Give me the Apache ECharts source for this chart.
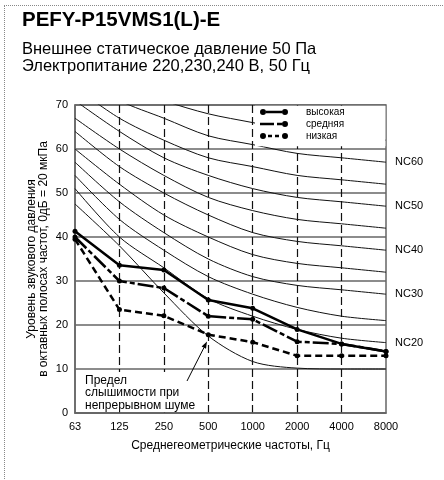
<!DOCTYPE html>
<html>
<head>
<meta charset="utf-8">
<script src="https://cdn.jsdelivr.net/npm/echarts@6/dist/echarts.min.js"></script>
<style>
html,body{margin:0;padding:0;background:#fff;}
#frame{position:absolute;left:4px;top:5px;width:440px;height:475px;border-top:1px dotted #888;border-left:1px dotted #888;}
#chart{position:absolute;left:0;top:0;width:444px;height:480px;}
</style>
</head>
<body>
<div id="frame"></div>
<div id="chart"></div>
<script>
// ---- data ----
const freqs = ['63', '125', '250', '500', '1000', '2000', '4000', '8000'];
const high   = [41.3, 33.6, 32.5, 25.7, 23.8, 19.0, 15.7, 14.0];
const medium = [40.0, 30.0, 28.4, 22.0, 21.3, 16.2, 15.7, 14.0];
const low    = [39.5, 23.5, 22.1, 17.8, 16.1, 13.0, 13.0, 13.0];
const threshold = [47.5, 38.0, 27.3, 17.5, 11.7, 10.2, 10.0, 10.0];
const nc20 = [51, 40, 33, 26, 22, 19, 17, 16];
const nc25 = [54, 44, 37, 31, 27, 24, 22, 21];
const nc30 = [57, 48, 41, 35, 31, 29, 28, 27];
const nc35 = [60, 52, 45, 40, 36, 34, 33, 32];
const nc40 = [64, 56, 50, 45, 41, 39, 38, 37];
const nc45 = [67, 60, 54, 49, 46, 44, 43, 42];
const nc50 = [71, 64, 58, 54, 51, 49, 48, 47];
const nc55 = [74, 67, 62, 58, 56, 54, 53, 52];
const nc60 = [77, 71, 67, 63, 61, 59, 58, 57];
const nc65 = [80, 75, 71, 68, 66, 64, 63, 62];
const yTicks = [0, 10, 20, 30, 40, 50, 60, 70];
const legendNames = ['высокая', 'средняя', 'низкая'];

const FONT = '"Liberation Sans", Arial, sans-serif';

const ncList = [
  ['NC20', nc20, true], ['NC25', nc25, false], ['NC30', nc30, true], ['NC35', nc35, false],
  ['NC40', nc40, true], ['NC45', nc45, false], ['NC50', nc50, true], ['NC55', nc55, false],
  ['NC60', nc60, true], ['NC65', nc65, false]
];

const thinLine = (name, data, labelled) => ({
  name: name, type: 'line', data: data, smooth: 0.3, symbol: 'none', z: 2,
  lineStyle: { color: '#111', width: 1 },
  endLabel: labelled ? {
    show: true, distance: 9, color: '#000', fontSize: 11, fontFamily: FONT,
    formatter: () => name
  } : { show: false },
  emphasis: { disabled: true }, silent: true
});

const series = ncList.map(n => thinLine(n[0], n[1], n[2]));
series.push({
  name: 'threshold', type: 'line', data: threshold, smooth: 0.3, symbol: 'none', z: 2,
  lineStyle: { color: '#111', width: 1 }, silent: true
});
const dataLine = (name, data, dash) => ({
  name: name, type: 'line', data: data, z: 5,
  symbol: 'circle', symbolSize: 5,
  itemStyle: { color: '#000' },
  lineStyle: { color: '#000', width: 2.5, type: dash },
  silent: true
});
series.push(dataLine(legendNames[0], high, 'solid'));
series.push(dataLine(legendNames[1], medium, [16, 3, 5, 3]));
series.push(dataLine(legendNames[2], low, [7, 4]));

const circL = 'M0,3 a3,3 0 1,0 6,0 a3,3 0 1,0 -6,0 Z';
const circR = 'M22,3 a3,3 0 1,0 6,0 a3,3 0 1,0 -6,0 Z';
const icons = [
  'path://' + circL + ' M6,1.8 L22,1.8 L22,4.2 L6,4.2 Z ' + circR,
  'path://M0,1.8 L14,1.8 L14,4.2 L0,4.2 Z M17,1.8 L22,1.8 L22,4.2 L17,4.2 Z ' + circR,
  'path://' + circL + ' M8,1.8 L12,1.8 L12,4.2 L8,4.2 Z M15,1.8 L19,1.8 L19,4.2 L15,4.2 Z ' + circR
];

const chart = echarts.init(document.getElementById('chart'), null, { renderer: 'canvas' });
chart.setOption({
  animation: false,
  backgroundColor: 'transparent',
  textStyle: { fontFamily: FONT },
  title: {
    text: 'PEFY-P15VMS1(L)-E',
    subtext: 'Внешнее статическое давление 50 Па\nЭлектропитание 220,230,240 В, 50 Гц',
    left: 22, top: 10, padding: 0, itemGap: 10,
    textStyle: { fontFamily: FONT, fontSize: 20.5, fontWeight: 'bold', color: '#000' },
    subtextStyle: { fontFamily: FONT, fontSize: 16.5, lineHeight: 17, color: '#000' }
  },
  legend: {
    data: legendNames.map((n, i) => ({ name: n, icon: icons[i] })),
    orient: 'vertical', left: 255, top: 105,
    padding: [1, 5, 4, 5], itemGap: 0,
    itemWidth: 28, itemHeight: 6,
    borderWidth: 0, z: 6,
    itemStyle: { color: '#000', borderWidth: 0 },
    textStyle: { fontFamily: FONT, fontSize: 10, color: '#000', lineHeight: 12, padding: [0, 0, 0, 13] },
    selectedMode: false
  },
  grid: {
    left: 75, right: 58, top: 105, bottom: 67,
    show: true, borderColor: '#666', borderWidth: 1.5, backgroundColor: 'transparent'
  },
  xAxis: {
    type: 'category', data: freqs, boundaryGap: false,
    name: 'Среднегеометрические частоты, Гц', nameLocation: 'middle', nameGap: 27,
    nameMoveOverlap: false,
    nameTextStyle: { fontFamily: FONT, fontSize: 12, color: '#000' },
    axisLine: { show: true, lineStyle: { color: '#666', width: 1.5 } },
    axisTick: { show: false },
    axisLabel: { color: '#000', fontSize: 11, fontFamily: FONT, margin: 8, interval: 0 },
    splitLine: {
      show: true, interval: (i) => i > 0 && i < freqs.length - 1,
      lineStyle: { color: '#111', width: 1.2, type: [8, 4] }
    }
  },
  yAxis: {
    type: 'value', min: yTicks[0], max: yTicks[yTicks.length - 1], interval: 10,
    name: 'Уровень звукового давления\nв октавных полосах частот, 0дБ = 20 мкПа',
    nameLocation: 'middle', nameRotate: 90, nameGap: 25,
    nameMoveOverlap: false,
    nameTextStyle: { fontFamily: FONT, fontSize: 12, color: '#000', lineHeight: 12 },
    axisLine: { show: true, lineStyle: { color: '#666', width: 1.5 } },
    axisTick: { show: false },
    axisLabel: { color: '#000', fontSize: 11, fontFamily: FONT, margin: 7 },
    splitLine: { show: true, lineStyle: { color: '#666', width: 1.5 } }
  },
  graphic: [
    { type: 'rect', z: 3, shape: { x: 255, y: 105.8, width: 130.4, height: 40.5 }, style: { fill: '#fff' } },
    { type: 'rect', z: 10, shape: { x: 79, y: 372, width: 120, height: 40 }, style: { fill: '#fff' } },
    { type: 'text', z: 11, style: {
        x: 85, y: 374, text: 'Предел\nслышимости при\nнепрерывном шуме',
        fontSize: 12, fontFamily: FONT, lineHeight: 12.5, fill: '#000', verticalAlign: 'top' } },
    { type: 'line', z: 11, shape: { x1: 187, y1: 381, x2: 204, y2: 347.5 }, style: { stroke: '#000', lineWidth: 1 } },
    { type: 'polygon', z: 11, shape: { points: [[207, 341.5], [206, 348.8], [201.6, 346.6]] }, style: { fill: '#000' } }
  ],
  series: series
});
</script>
</body>
</html>
